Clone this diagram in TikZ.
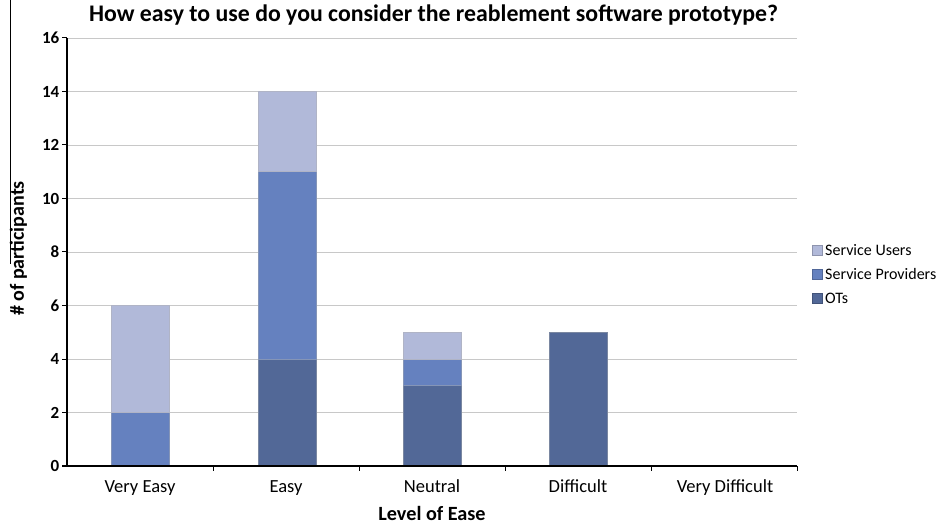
\documentclass[tikz,border=0pt]{standalone}
\usepackage{fontspec}
\setmainfont{Carlito}
\definecolor{su}{HTML}{B1B9D9}
\definecolor{sp}{HTML}{6581BF}
\definecolor{ot}{HTML}{526897}
\definecolor{grid}{HTML}{C8C8C8}
\begin{document}
\begin{tikzpicture}[x=1pt,y=-1pt,
  ticklab/.style={anchor=east, font=\bfseries\fontsize{17}{17}\selectfont, inner sep=0pt},
  catlab/.style={anchor=base, font=\fontsize{18.5}{18.5}\selectfont, inner sep=0pt},
  leglab/.style={anchor=west, font=\fontsize{16}{16}\selectfont, inner sep=0pt},
  legbox/.style={draw=#1!80!black, fill=#1, minimum size=9.5pt, inner sep=0pt, line width=0.4pt}]
\useasboundingbox (0,0) rectangle (941,526);
% gridlines
\foreach \v in {2,4,...,16}
  \draw[grid, line width=0.9pt] (67,{466-26.75*\v}) -- (797,{466-26.75*\v});
% bar segment: center, from, to, colour
\newcommand{\barseg}[4]{\fill[#4] ({#1-29},{466-26.75*#2}) rectangle ({#1+29},{466-26.75*#3});
  \draw[#4!80!black!70!white, line width=0.6pt] ({#1-29},{466-26.75*#2}) rectangle ({#1+29},{466-26.75*#3});}
% Very Easy
\barseg{140}{0}{2}{sp}
\barseg{140}{2}{6}{su}
% Easy
\barseg{287}{0}{4}{ot}
\barseg{287}{4}{11}{sp}
\barseg{287}{11}{14}{su}
% Neutral
\barseg{432.5}{0}{3}{ot}
\barseg{432.5}{3}{4}{sp}
\barseg{432.5}{4}{5}{su}
% Difficult
\barseg{578}{0}{5}{ot}
% axes
\draw[black, line width=1.3pt] (67,38) -- (67,466);
\foreach \v in {0,2,...,16}{
  \draw[black, line width=1pt] (62,{466-26.75*\v}) -- (67,{466-26.75*\v});
  \node[ticklab] (t\v) at (59.5,{466-26.75*\v}) {\v};
}
\draw[black, line width=2.2pt] (62,466) -- (797,466);
\foreach \xx in {213,359,505,651,797}
  \draw[black, line width=1pt] (\xx,466) -- (\xx,471);
% category labels
\node[catlab] (c1) at (140,492) {Very Easy};
\node[catlab] (c2) at (286,492) {Easy};
\node[catlab] (c3) at (432,492) {Neutral};
\node[catlab] (c4) at (578,492) {Difficult};
\node[catlab] (c5) at (725,492) {Very Difficult};
% axis titles
\node[anchor=base, inner sep=0pt, font=\bfseries\fontsize{20.2}{20.2}\selectfont] (xt) at (432,520) {Level of Ease};
\node[rotate=90, inner sep=0pt, font=\bfseries\fontsize{20}{20}\selectfont] (yt) at (18.5,248.5) {\# of participants};
\draw[black, line width=1pt] (10,0) -- (10,264);
% title
\node[anchor=base, inner sep=0pt, font=\bfseries\fontsize{23.8}{23.8}\selectfont] (title) at (433.5,22) {How easy to use do you consider the reablement software prototype?};
% legend
\node[legbox=su] (l1) at (817,250) {};
\node[legbox=sp] (l2) at (817,274) {};
\node[legbox=ot] (l3) at (817,298) {};
\node[leglab] (lt1) at (825,250.5) {Service Users};
\node[leglab] (lt2) at (825,274.5) {Service Providers};
\node[leglab] (lt3) at (825,298.5) {OTs};
\end{tikzpicture}
\end{document}
